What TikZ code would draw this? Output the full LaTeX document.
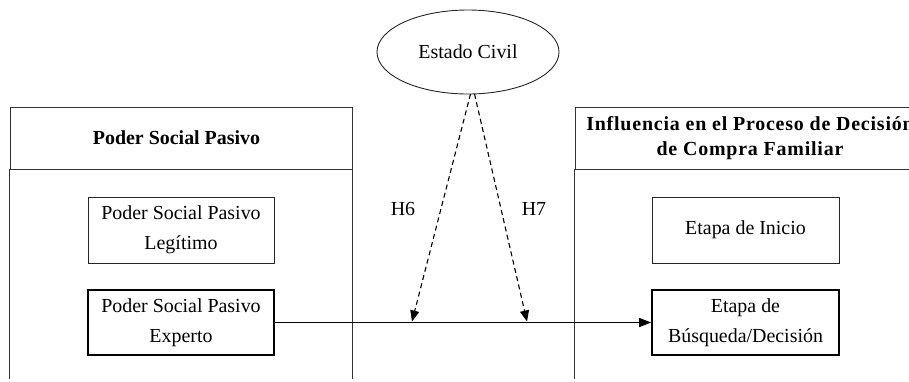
\documentclass[tikz,border=0pt]{standalone}
\usepackage{fontspec}
\setmainfont{Liberation Serif}
\usetikzlibrary{arrows.meta,shapes.geometric}
\begin{document}
\begin{tikzpicture}[x=1bp,y=-1bp,
  txt/.style={font=\fontsize{20}{30}\selectfont},
  panelline/.style={draw=black!80,line width=0.9bp},
  panelhead/.style={panelline,rectangle,minimum height=62bp,inner sep=0pt,
    align=center,font=\fontsize{20}{25}\selectfont\bfseries},
  thinbox/.style={txt,draw=black!85,line width=0.9bp,rectangle,minimum width=186bp,
    minimum height=66bp,inner sep=0pt,align=center},
  thickbox/.style={thinbox,draw=black,line width=1.6bp,minimum height=65bp},
  link/.style={line width=1.1bp,-{Triangle[length=12bp,width=9bp]}},
  moderate/.style={line width=1.1bp,dash pattern=on 5bp off 3.5bp,
    -{Triangle[length=11bp,width=9bp]}}]
  \useasboundingbox (0,0) rectangle (909,381);
  \clip (0,0) rectangle (909,381);

  % left panel: passive social power
  \node[panelhead,minimum width=342bp] (lhead) at (181,138) {Poder Social Pasivo\hspace*{9bp}};
  \draw[panelline] (lhead.south west) -- ++(0,210);
  \draw[panelline] (lhead.south east) -- ++(0,210);

  % right panel: stages of the family purchase decision
  \node[panelhead,minimum width=350bp] (rhead) at (750,138)
    {\addfontfeatures{LetterSpace=4}Influencia en el Proceso de Decisión\\
     \addfontfeatures{LetterSpace=4}de Compra Familiar};
  \draw[panelline] (rhead.south west) -- ++(0,210);
  \draw[panelline] (rhead.south east) -- ++(0,210);

  % constructs
  \node[thinbox] (leg) at (181,230) {Poder Social Pasivo\\Legítimo};
  \node[thickbox] (exp) at (181,322.5) {Poder Social Pasivo\\Experto};
  \node[thinbox,minimum width=187bp] (ini) at (745.5,230) {Etapa de Inicio};
  \node[thickbox,minimum width=187bp] (bus) at (745.5,322.5) {Etapa de\\Búsqueda/Decisión};

  % moderator
  \node[txt,draw=black!85,line width=0.9bp,ellipse,minimum width=182bp,
    minimum height=84bp,inner sep=0pt] (civ) at (468,52) {Estado Civil};

  % direct effect
  \draw[link] (exp.east) -- (bus.west);

  % moderating effects
  \coordinate (top6) at (470.5,94);
  \coordinate (top7) at (474.5,94);
  \coordinate (m6) at (412,321.5);
  \coordinate (m7) at (527,321.5);
  \draw[moderate] (top6) -- (m6);
  \draw[moderate] (top7) -- (m7);
  \node[txt] (h6) at (403,209) {H6};
  \node[txt] (h7) at (534,209) {H7};
\end{tikzpicture}
\end{document}
